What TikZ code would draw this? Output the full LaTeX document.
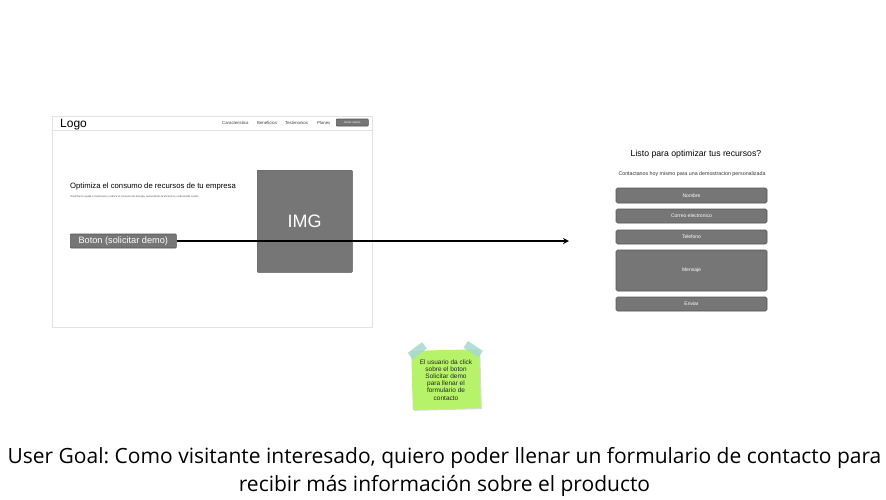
\documentclass[tikz,border=0pt]{standalone}
\usepackage{fontspec}
\setmainfont{Liberation Sans}
\newfontfamily\opensans{Open Sans}
\usetikzlibrary{arrows.meta}
\frenchspacing
\definecolor{boxgray}{HTML}{767676}
\definecolor{boxedge}{HTML}{555555}
\definecolor{framegray}{HTML}{E2E2E2}
\definecolor{notegreen}{HTML}{B6F36A}
\definecolor{tapeblue}{HTML}{A8D8D2}
\tikzset{
  fs/.style={font=\fontsize{#1}{#1}\selectfont},
  graybox/.style={draw=boxedge, fill=boxgray, line width=0.6pt, text=white, inner sep=0pt},
  field/.style={graybox, rounded corners=1.5pt, minimum width=151pt, text=white, fs=5},
  navitem/.style={fs=4.3, text=black!75, inner sep=0pt, anchor=west},
  flow/.style={-{Stealth[length=6pt,width=6pt]}, line width=1.3pt, black},
}
\begin{document}
\begin{tikzpicture}[x=1pt,y=-1pt]
\useasboundingbox[fill=white] (0,0) rectangle (886,499);
% left mockup
\node[draw=framegray, line width=0.8pt, minimum width=320pt, minimum height=211pt, inner sep=0pt, anchor=north west] (frame) at (52,116) {};
\draw[draw=framegray, line width=0.6pt] (52,130) -- (372,130);
\node[fs=12, anchor=west, inner sep=0pt] (logo) at (60,124.5) {Logo};
\node[navitem] (nav1) at (222,122.5) {Caracteristica};
\node[navitem] (nav2) at (257,122.5) {Beneficios};
\node[navitem] (nav3) at (285,122.5) {Testimonios};
\node[navitem] (nav4) at (317,122.5) {Planes};
\node[graybox, rounded corners=0.8pt, minimum width=32pt, minimum height=7pt, fs=2.8, anchor=west] (login) at (336,122.5) {Iniciar sesion};
\node[fs=7.7, anchor=west, inner sep=0pt] (headline) at (70,187) {Optimiza el consumo de recursos de tu empresa};
\node[fs=2.6, anchor=west, inner sep=0pt, text=black!70] (sub) at (70,197) {OnePlow te ayuda a monitorear y reducir el consumo de energía, aumentando la eficiencia y reduciendo costos};
\node[graybox, rounded corners=0.8pt, minimum width=95pt, minimum height=102pt, anchor=north west] (img) at (257,170) {};
\node[text=white, fs=18, inner sep=0pt] (imgtxt) at (304.5,221.5) {IMG};
\node[graybox, rounded corners=0.8pt, minimum width=106pt, minimum height=14pt, fs=9.2, anchor=west] (btn) at (70,241) {Boton (solicitar demo)};
% right form
\node[fs=8.7, inner sep=0pt] (ftitle) at (696,154.5) {Listo para optimizar tus recursos?};
\node[fs=5.3, inner sep=0pt, text=black!80] (fsub) at (692,174.5) {Contactanos hoy mismo para una demostracion personalizada};
\node[field, minimum height=15pt] (nombre) at (691.5,195.5) {Nombre};
\node[field, minimum height=14pt] (correo) at (691.5,216) {Correo electronico};
\node[field, minimum height=14pt] (tel) at (691.5,237) {Telefono};
\node[field, minimum height=41pt] (msg) at (691.5,270.5) {Mensaje};
\node[field, minimum height=14pt] (enviar) at (691.5,304) {Enviar};
\coordinate (formin) at (569,241);
\draw[flow] (btn.east) -- (formin);
% sticky note
\begin{scope}[shift={(446,379)}, rotate=1.5]
\fill[black!15] (-33,-28) rectangle (35,31);
\fill[notegreen] (-34,-29) rectangle (34,30);
\node[fs=6.5, align=center, inner sep=0pt, text=black!85] (note) at (0,1) {El usuario da click\\[0.6pt]sobre el boton\\[0.6pt]Solicitar demo\\[0.6pt]para llenar el\\[0.6pt]formulario de\\[0.6pt]contacto};
\fill[tapeblue, opacity=0.85, rotate around={35:(-28,-29)}] (-37,-33) rectangle (-19,-25);
\fill[tapeblue, opacity=0.85, rotate around={-35:(28,-29)}] (19,-33) rectangle (37,-25);
\end{scope}
% goal text
\node[font=\opensans\fontsize{21}{28}\selectfont, align=center, inner sep=0pt] (goal) at (444.5,472) {User Goal: Como visitante interesado, quiero poder llenar un formulario de contacto para\\recibir más información sobre el producto};
\end{tikzpicture}
\end{document}
